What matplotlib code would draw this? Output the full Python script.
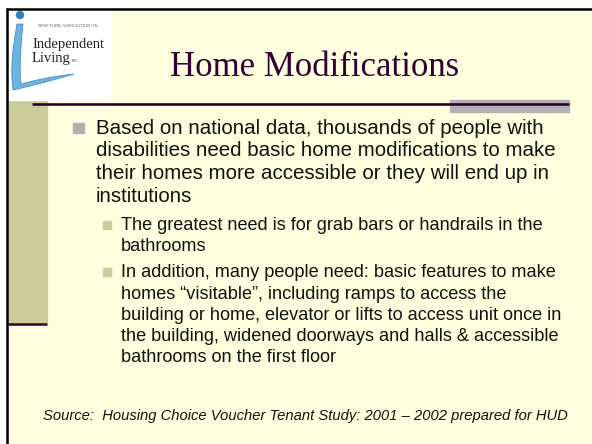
import matplotlib
matplotlib.use("Agg")
import matplotlib.pyplot as plt
from matplotlib.patches import Rectangle, Circle, PathPatch
from matplotlib.path import Path

# Slide content
title = "Home Modifications"
main_bullet = [
    "Based on national data, thousands of people with",
    "disabilities need basic home modifications to make",
    "their homes more accessible or they will end up in",
    "institutions",
]
sub_bullets = [
    ["The greatest need is for grab bars or handrails in the",
     "bathrooms"],
    ["In addition, many people need: basic features to make",
     "homes \u201cvisitable\u201d, including ramps to access the",
     "building or home, elevator or lifts to access unit once in",
     "the building, widened doorways and halls & accessible",
     "bathrooms on the first floor"],
]
source = "Source:  Housing Choice Voucher Tenant Study: 2001 \u2013 2002 prepared for HUD"
logo_small = "NEW YORK ASSOCIATION ON"
logo_words = ["Independent", "Living"]

BG = "#FFFFE0"
KHAKI = "#CCCC99"
PURPLE = "#330033"
GREY = "#B2B2B2"
SANS = "Liberation Sans"
SERIF = "Liberation Serif"


def draw_frame(ax):
    """Background, side bar, title rules and outer frame"""
    ax.add_patch(Rectangle((0, 0), 592, 444, color="white", zorder=0))
    ax.add_patch(Rectangle((8, 9), 584, 435, color=BG, zorder=0.5))
    ax.add_patch(Rectangle((8, 100), 39, 223, color=KHAKI, zorder=1))
    ax.plot([8, 47], [323.5, 323.5], color=PURPLE, lw=1.8, solid_capstyle="butt", zorder=2)
    ax.add_patch(Rectangle((450, 100), 119, 12, color=GREY, zorder=1))
    ax.plot([32, 569], [104.5, 104.5], color=PURPLE, lw=1.9, solid_capstyle="butt", zorder=2)
    # outer black frame (top and left)
    ax.plot([6, 592], [9, 9], color="black", lw=1.8, solid_capstyle="butt", zorder=5)
    ax.plot([7, 7], [8, 444], color="black", lw=1.8, solid_capstyle="butt", zorder=5)


def draw_logo(ax):
    """Rough version of the NYAIL logo"""
    ax.add_patch(Rectangle((8, 10), 103, 90, color="white", zorder=3))
    blue = "#4AA3D6"
    ax.add_patch(Circle((20, 15), 3.5, color="#2F7FC0", zorder=4))
    verts = [(17, 24), (13, 45), (10, 70), (13, 90),
             (40, 84), (60, 78), (74, 74),
             (55, 76), (35, 80), (21, 84),
             (19, 65), (21, 45), (23, 24),
             (17, 24)]
    codes = [Path.MOVETO, Path.CURVE4, Path.CURVE4, Path.CURVE4,
             Path.CURVE4, Path.CURVE4, Path.CURVE4,
             Path.CURVE4, Path.CURVE4, Path.CURVE4,
             Path.CURVE4, Path.CURVE4, Path.CURVE4,
             Path.CLOSEPOLY]
    ax.add_patch(PathPatch(Path(verts, codes), facecolor=blue, edgecolor="#2F7FC0",
                           lw=0.6, alpha=0.8, zorder=4))
    ax.text(38, 27, logo_small, fontsize=3.2, family=SERIF, color="#555555",
            va="baseline", zorder=5)
    ax.text(32, 48, logo_words[0], fontsize=10.5, family=SERIF, color="#222222",
            va="baseline", zorder=5)
    ax.text(32, 62, logo_words[1], fontsize=10.5, family=SERIF, color="#222222",
            va="baseline", zorder=5)
    ax.text(72, 62, "INC.", fontsize=3, family=SERIF, color="#555555",
            va="baseline", zorder=5)


def draw_text(ax):
    """Title, bullets and source line"""
    ax.text(315, 76, title, fontsize=25, family=SERIF, color=PURPLE,
            ha="center", va="baseline", zorder=5)

    y = 133.5
    ax.add_patch(Rectangle((73, y - 11), 10.5, 10, color=GREY, zorder=4))
    for line in main_bullet:
        ax.text(96, y, line, fontsize=14.8, family=SANS, color="#111111",
                va="baseline", zorder=5)
        y += 22.7

    y = 230
    for group in sub_bullets:
        ax.add_patch(Rectangle((103, y - 9), 8, 7.5, color=KHAKI, zorder=4))
        for line in group:
            ax.text(121, y, line, fontsize=13.1, family=SANS, color="#111111",
                    va="baseline", zorder=5)
            y += 21.2
        y += 5

    ax.text(43, 420, source, fontsize=10.6, family=SANS, style="italic",
            color="#111111", va="baseline", zorder=5)


def make_slide():
    fig = plt.figure(figsize=(5.92, 4.44), dpi=100)
    ax = fig.add_axes([0, 0, 1, 1])
    ax.set_xlim(0, 592)
    ax.set_ylim(444, 0)
    ax.axis("off")
    draw_frame(ax)
    draw_logo(ax)
    draw_text(ax)
    fig.savefig("out.png", dpi=100)


if __name__ == "__main__":
    make_slide()
